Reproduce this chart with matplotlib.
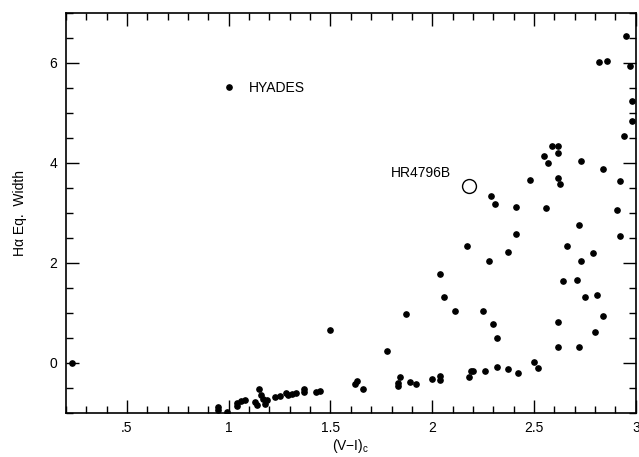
import matplotlib
matplotlib.use("Agg")
import matplotlib.pyplot as plt
from matplotlib.ticker import MultipleLocator, FixedLocator, FixedFormatter

plt.rcParams['font.family'] = ['Liberation Sans', 'DejaVu Sans']
plt.rcParams['mathtext.fontset'] = 'custom'
plt.rcParams['mathtext.rm'] = 'Liberation Sans'

# Hyades stars: (V-I)c colour and H-alpha equivalent width
hyades_vi = [0.23, 0.95, 0.95, 0.99, 1.04, 1.04, 1.06, 1.08, 1.15, 1.16,
             1.17, 1.13, 1.14, 1.19, 1.18, 1.23, 1.25, 1.28, 1.29, 1.31,
             1.33, 1.37, 1.37, 1.43, 1.45, 1.50, 1.62, 1.63, 1.66, 1.78,
             1.83, 1.83, 1.84, 1.89, 1.87, 1.92, 2.00, 2.04, 2.04, 2.04,
             2.06, 2.11, 2.17, 2.18, 2.19, 2.20, 2.25, 2.26, 2.28, 2.29,
             2.30, 2.31, 2.32, 2.32, 2.37, 2.37, 2.41, 2.41, 2.42, 2.48,
             2.50, 2.52, 2.55, 2.56, 2.57, 2.59, 2.62, 2.62, 2.62, 2.63,
             2.62, 2.62, 2.64, 2.66, 2.71, 2.72, 2.73, 2.73, 2.72, 2.75,
             2.79, 2.80, 2.81, 2.82, 2.84, 2.84, 2.86, 2.91, 2.92, 2.92,
             2.94, 2.95, 2.97, 2.98, 2.98]
hyades_ew = [0.00, -0.88, -0.94, -0.99, -0.81, -0.86, -0.77, -0.75, -0.53, -0.64,
             -0.73, -0.79, -0.84, -0.75, -0.82, -0.68, -0.66, -0.61, -0.64, -0.63,
             -0.61, -0.53, -0.59, -0.58, -0.56, 0.65, -0.42, -0.37, -0.53, 0.23,
             -0.47, -0.40, -0.29, -0.39, 0.98, -0.42, -0.32, -0.27, -0.35, 1.77,
             1.31, 1.03, 2.33, -0.29, -0.17, -0.17, 1.03, -0.17, 2.04, 3.33,
             0.77, 3.18, 0.49, -0.09, 2.22, -0.13, 2.58, 3.11, -0.21, 3.65,
             0.01, -0.11, 4.13, 3.09, 3.99, 4.33, 4.34, 4.19, 3.69, 3.57,
             0.82, 0.31, 1.63, 2.33, 1.65, 2.75, 4.03, 2.03, 0.31, 1.31,
             2.20, 0.62, 1.35, 6.01, 3.87, 0.93, 6.03, 3.05, 3.64, 2.54,
             4.53, 6.54, 5.94, 5.23, 4.83]

hr4796b_vi = [2.18]
hr4796b_ew = [3.53]

x_ticks = [0.5, 1.0, 1.5, 2.0, 2.5, 3.0]
x_labels = ['.5', '1', '1.5', '2', '2.5', '3']
y_ticks = [0, 2, 4, 6]

fig = plt.figure(figsize=(6.39, 4.57), dpi=100)
ax = fig.add_axes([0.103, 0.0963, 0.892, 0.8753])

ax.plot(hyades_vi, hyades_ew, 'o', color='black', markersize=3.8,
        linestyle='none', label='HYADES')
ax.plot(hr4796b_vi, hr4796b_ew, 'o', markerfacecolor='white',
        markeredgecolor='black', markersize=10, markeredgewidth=1.0)
ax.text(2.09, 3.8, 'HR4796B', ha='right', va='center', fontsize=10)

ax.legend(loc='center left', bbox_to_anchor=(0.274, 0.813), frameon=False,
          numpoints=1, handlelength=1.0, handletextpad=0.9, borderpad=0,
          borderaxespad=0, fontsize=10)

ax.set_xlim(0.2, 3.0)
ax.set_ylim(-1, 7)
ax.xaxis.set_major_locator(FixedLocator(x_ticks))
ax.xaxis.set_major_formatter(FixedFormatter(x_labels))
ax.xaxis.set_minor_locator(MultipleLocator(0.1))
ax.yaxis.set_major_locator(FixedLocator(y_ticks))
ax.yaxis.set_minor_locator(MultipleLocator(0.5))

ax.tick_params(which='both', direction='in', top=True, right=True,
               labelsize=10, width=1.0, pad=6)
ax.tick_params(which='major', length=9.5)
ax.tick_params(which='minor', length=5)
for sp in ax.spines.values():
    sp.set_linewidth(1.2)

ax.set_xlabel('(V\u2212I)$_\\mathrm{c}$', fontsize=10, labelpad=1)
ax.set_ylabel('H\u03b1 Eq.  Width', fontsize=10, labelpad=16)

fig.savefig('out.png', dpi=100)
